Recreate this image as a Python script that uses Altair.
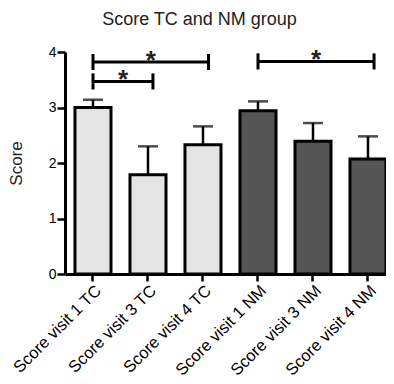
import altair as alt
import pandas as pd

categories = ["Score visit 1 TC", "Score visit 3 TC", "Score visit 4 TC",
              "Score visit 1 NM", "Score visit 3 NM", "Score visit 4 NM"]
groups = ["TC", "TC", "TC", "NM", "NM", "NM"]
means = [3.00, 1.79, 2.33, 2.94, 2.39, 2.07]
errors = [0.14, 0.51, 0.33, 0.17, 0.33, 0.41]

# significance brackets (category index positions, score height)
bracket_start = [1.0, 1.0, 4.0]
bracket_end = [2.09, 3.10, 6.11]
bracket_y = [3.47, 3.82, 3.83]
bracket_label = ["*", "*", "*"]
bracket_tick = 0.145

df = pd.DataFrame({"cat": categories, "group": groups, "mean": means, "err": errors})
df["top"] = df["mean"] + df["err"]

br = pd.DataFrame({"x1": bracket_start, "x2": bracket_end, "y": bracket_y, "label": bracket_label})
br["xm"] = (br["x1"] + br["x2"]) / 2
br["ylo"] = br["y"] - bracket_tick
br["yhi"] = br["y"] + bracket_tick
ends = pd.concat([
    pd.DataFrame({"x": br["x1"], "ylo": br["ylo"], "yhi": br["yhi"]}),
    pd.DataFrame({"x": br["x2"], "ylo": br["ylo"], "yhi": br["yhi"]}),
])

FONT = "Liberation Sans"
W, H = 321, 222

xband = alt.X("cat:N", sort=categories, title=None,
              scale=alt.Scale(paddingInner=0.345, paddingOuter=0.0907, align=1.0),
              axis=alt.Axis(labelAngle=-45, labelAlign="right", labelBaseline="top",
                            labelFontSize=16.5, labelFont=FONT, labelColor="black",
                            tickSize=7, tickWidth=2.5, tickColor="black",
                            domainWidth=3, domainColor="black", labelPadding=1))
yscale = alt.Scale(domain=[0, 4], nice=False)
yenc = alt.Y("mean:Q", scale=yscale, title="Score",
             axis=alt.Axis(values=[0, 1, 2, 3, 4], grid=False, format="d",
                           labelFontSize=14, labelFont=FONT, labelColor="black",
                           tickSize=8, tickWidth=2.5, tickColor="black",
                           domainWidth=3, domainColor="black", labelPadding=1,
                           titleFont=FONT, titleFontSize=17, titleFontWeight="normal",
                           titleColor="#222", titlePadding=23))

bars = alt.Chart(df).mark_bar(stroke="black", strokeWidth=3).encode(
    x=xband, y=yenc,
    color=alt.Color("group:N", scale=alt.Scale(domain=["TC", "NM"], range=["#e4e4e4", "#555555"]),
                    legend=None),
)
errline = alt.Chart(df).mark_rule(color="black", strokeWidth=2.5).encode(
    x=alt.X("cat:N", sort=categories), y=alt.Y("mean:Q", scale=yscale), y2="top:Q")
errcap = alt.Chart(df).mark_tick(color="black", thickness=2.5, size=20).encode(
    x=alt.X("cat:N", sort=categories), y=alt.Y("top:Q", scale=yscale))

base = alt.Chart(layer=[bars, errline, errcap])

# quantitative index scale aligned with band centres (centre 1 at 28px, step 55px)
xq = alt.Scale(domain=[1 - 28 / 55, 1 + (W - 28) / 55], nice=False, zero=False)
hline = alt.Chart(br).mark_rule(color="black", strokeWidth=3).encode(
    x=alt.X("x1:Q", scale=xq, axis=None), x2="x2:Q", y=alt.Y("y:Q", scale=yscale))
vline = alt.Chart(ends).mark_rule(color="black", strokeWidth=3).encode(
    x=alt.X("x:Q", scale=xq, axis=None), y=alt.Y("ylo:Q", scale=yscale), y2="yhi:Q")
stars = alt.Chart(br).mark_text(font=FONT, fontSize=26, fontWeight="bold", baseline="alphabetic",
                                dy=7, color="#222").encode(
    x=alt.X("xm:Q", scale=xq, axis=None), y=alt.Y("y:Q", scale=yscale), text="label:N")
annot = alt.layer(hline, vline, stars)

chart = alt.layer(base, annot).resolve_scale(x="independent").properties(
    width=W, height=H,
    padding={"left": 57, "top": 44, "right": 0, "bottom": 110},
    autosize=alt.AutoSizeParams(type="none"),
    title=alt.TitleParams("Score TC and NM group", font=FONT, fontSize=18, fontWeight="normal",
                          color="#222", dx=-26, offset=16, anchor="middle"),
).configure_view(stroke=None)

chart.save("out.html", embed_options={"renderer": "svg", "actions": False})
